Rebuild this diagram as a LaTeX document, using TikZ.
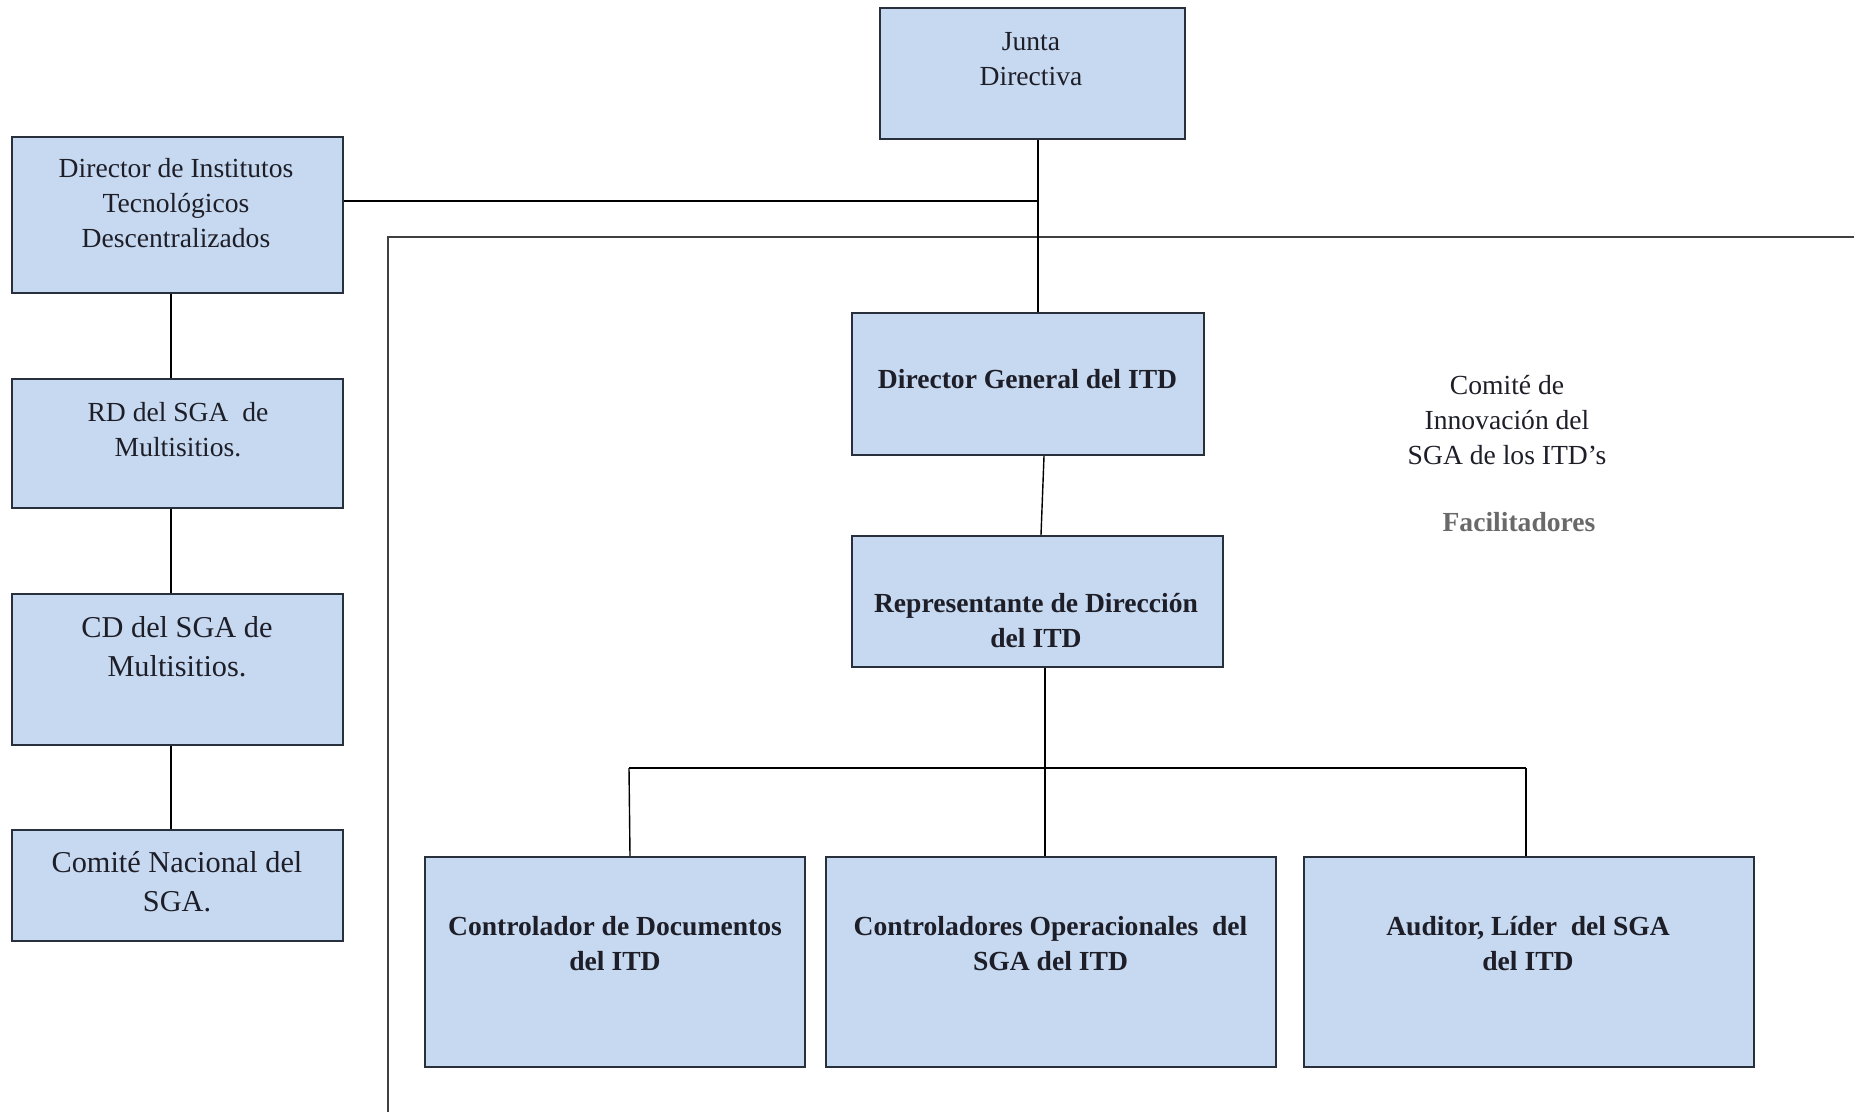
\documentclass[tikz,border=0pt]{standalone}
\usepackage{fontspec}
\setmainfont{Liberation Serif}
\definecolor{boxfill}{RGB}{198,217,240}
\definecolor{boxline}{RGB}{40,48,60}
\definecolor{txt}{RGB}{30,30,40}
\definecolor{facil}{RGB}{105,105,105}
\begin{document}
\begin{tikzpicture}[x=1pt,y=-1pt,
  box/.style={draw=boxline,line width=2.4pt,fill=boxfill,inner sep=0pt},
  lbl/.style={text=txt,align=center,inner sep=0pt,font=\fontsize{27.6}{35}\selectfont},
  biglbl/.style={lbl,font=\fontsize{30.3}{39}\selectfont},
  blbl/.style={lbl,font=\bfseries\fontsize{27.6}{35}\selectfont},
  conn/.style={draw=black,line width=1.4pt},
  frame/.style={draw=black!75,line width=2pt}]
\useasboundingbox (0,0) rectangle (1854,1112);

% boxes
\node[box,minimum width=305,minimum height=131] (junta) at (1032.5,73.5) {};
\node[box,minimum width=331,minimum height=156] (dir) at (177.5,215) {};
\node[box,minimum width=331,minimum height=129] (rd) at (177.5,443.5) {};
\node[box,minimum width=331,minimum height=151] (cd) at (177.5,669.5) {};
\node[box,minimum width=331,minimum height=111] (cn) at (177.5,885.5) {};
\node[box,minimum width=352,minimum height=142] (dg) at (1028,384) {};
\node[box,minimum width=371,minimum height=131] (rep) at (1037.5,601.5) {};
\node[box,minimum width=380,minimum height=210] (b1) at (615,962) {};
\node[box,minimum width=450,minimum height=210] (b2) at (1051,962) {};
\node[box,minimum width=450,minimum height=210] (b3) at (1529,962) {};

% texts
\node[lbl] (tjunta) at (1031,59) {Junta\\Directiva};
\node[lbl] (tdir) at (176,203) {Director de Institutos\\Tecnológicos\\Descentralizados};
\node[lbl] (trd) at (178,430) {RD del SGA\ \ de\\Multisitios.};
\node[biglbl] (tcd) at (177,647) {CD del SGA de\\Multisitios.};
\node[biglbl] (tcn) at (177,882) {Comité Nacional del\\SGA.};
\node[blbl] (tdg) at (1027.5,379) {Director General del ITD};
\node[blbl] (trep) at (1036,620.5) {Representante de Dirección\\del ITD};
\node[blbl] (tb1) at (615,944) {Controlador de Documentos\\del ITD};
\node[blbl] (tb2) at (1050.5,944) {Controladores Operacionales\ \ del\\SGA del ITD};
\node[blbl] (tb3) at (1528,944) {Auditor, Líder\ \ del SGA\\del ITD};
\node[lbl] (comite) at (1507,420) {Comité de\\Innovación del\\SGA de los ITD’s};
\node[blbl,text=facil] (facil) at (1519,522) {Facilitadores};

% frame of the committee
\coordinate (fr1) at (1854,237);
\coordinate (fr2) at (388,237);
\coordinate (fr3) at (388,1112);
\draw[frame] (fr1) -- (fr2) -- (fr3);

% connectors
\coordinate (jx) at (1038,201);
\draw[conn] ([xshift=5.5pt]junta.south) -- ([xshift=10pt]dg.north);
\draw[conn] (dir.east |- jx) -- (jx);
\draw[conn] ([xshift=-6.5pt]dir.south) -- ([xshift=-6.5pt]rd.north);
\draw[conn] ([xshift=-6.5pt]rd.south) -- ([xshift=-6.5pt]cd.north);
\draw[conn] ([xshift=-6.5pt]cd.south) -- ([xshift=-6.5pt]cn.north);
\draw[conn] ([xshift=16pt]dg.south) -- ([xshift=3.5pt]rep.north);
\draw[conn] ([xshift=7.5pt]rep.south) -- ([xshift=-6pt]b2.north);
\coordinate (hl) at (629,768);
\coordinate (hr) at (1526,768);
\draw[conn] (hl) -- (hr);
\draw[conn] (hl) -- ([xshift=15pt]b1.north);
\draw[conn] (hr) -- ([xshift=-3pt]b3.north);
\end{tikzpicture}
\end{document}
